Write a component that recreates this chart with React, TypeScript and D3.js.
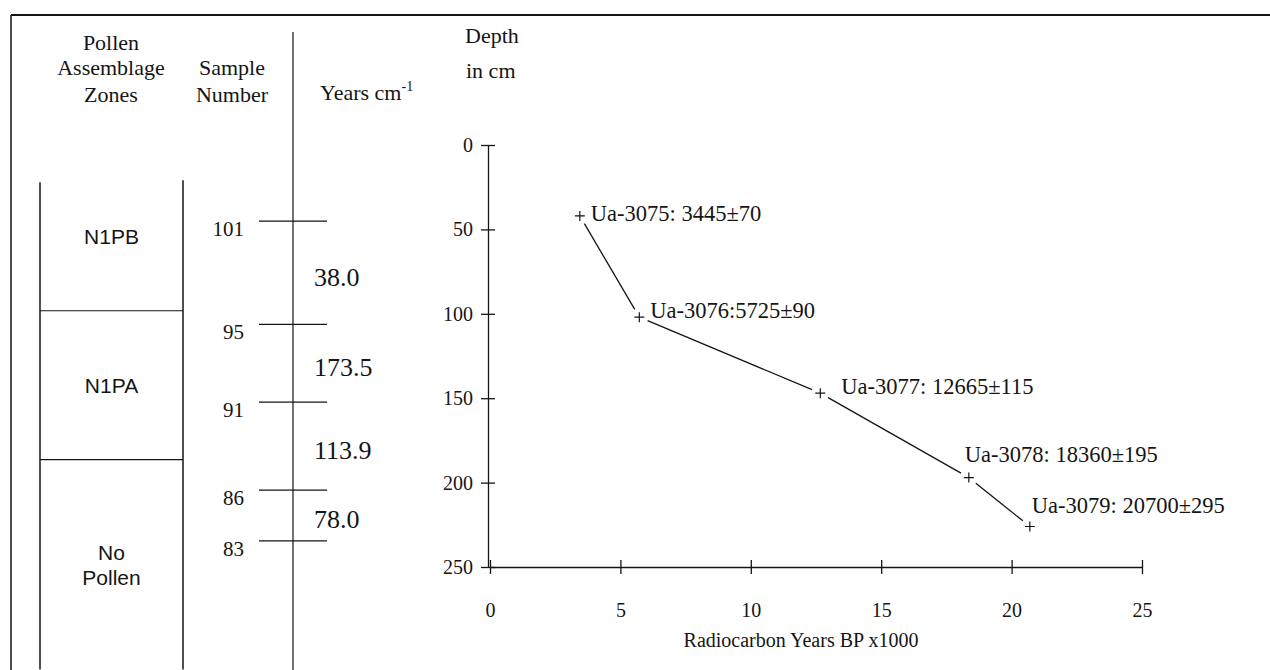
import * as d3 from "d3";
import { useEffect, useRef } from "react";

// core column (left panel)
const zoneNames = ["N1PB", "N1PA", "No Pollen"];
const zoneTops = [19, 95, 183]; // cm on the core scale
const coreBottom = 307;

const sampleNumbers = [101, 95, 91, 86, 83];
const sampleDepths = [42, 103, 149, 201, 231];
const accumulationRates = ["38.0", "173.5", "113.9", "78.0"];

// radiocarbon dates (right panel)
const dateLabels = [
  "Ua-3075: 3445\u00b170",
  "Ua-3076:5725\u00b190",
  "Ua-3077: 12665\u00b1115",
  "Ua-3078: 18360\u00b1195",
  "Ua-3079: 20700\u00b1295",
];
const dateAges = [3.445, 5.725, 12.665, 18.36, 20.7]; // ka BP
const dateDepths = [42, 102, 147, 197, 226]; // cm

const xTicks = [0, 5, 10, 15, 20, 25];
const yTicks = [0, 50, 100, 150, 200, 250];

const serif = "'Liberation Serif', 'Times New Roman', serif";
const sans = "'Liberation Sans', Arial, sans-serif";
const ink = "#151515";

// where each date label sits relative to its point
const labelOffsets = [
  [11, 5],
  [11, 1],
  [21, 1],
  [-4, -16],
  [2, -13],
];

const W = 1270;
const H = 670;

const App = () => {
  const ref = useRef<SVGSVGElement>(null);

  useEffect(() => {
    const svg = d3.select(ref.current);
    svg.selectAll("*").remove();

    // frame
    svg.append("line").attr("x1", 11).attr("x2", W).attr("y1", 15).attr("y2", 15)
      .attr("stroke", ink).attr("stroke-width", 2);
    svg.append("line").attr("x1", 11).attr("x2", 11).attr("y1", 15).attr("y2", H)
      .attr("stroke", ink).attr("stroke-width", 1.5);

    // headers
    const header = (txt: string, x: number, y: number, anchor = "middle") =>
      svg.append("text").attr("x", x).attr("y", y).attr("text-anchor", anchor)
        .attr("font-family", serif).attr("font-size", 22).attr("fill", ink).text(txt);
    header("Pollen", 111, 50);
    header("Assemblage", 111, 75);
    header("Zones", 111, 102);
    header("Sample", 232, 75);
    header("Number", 232, 102);
    const yr = header("Years cm", 320, 100, "start");
    yr.append("tspan").attr("dy", -9).attr("font-size", 14).text("-1");
    header("Depth", 465, 43, "start");
    header("in cm", 466, 78, "start");

    // core column
    const coreY = d3.scaleLinear().domain([0, 250]).range([150, 573]);
    const zoneLeft = 40;
    const zoneRight = 183;
    svg.append("line").attr("x1", zoneLeft).attr("x2", zoneLeft)
      .attr("y1", coreY(zoneTops[0])).attr("y2", coreY(coreBottom))
      .attr("stroke", ink).attr("stroke-width", 1.5);
    svg.append("line").attr("x1", zoneRight).attr("x2", zoneRight)
      .attr("y1", coreY(zoneTops[0]) - 2).attr("y2", coreY(coreBottom))
      .attr("stroke", ink).attr("stroke-width", 1.5);
    svg.selectAll("line.zone")
      .data(zoneTops.slice(1))
      .join("line")
      .attr("x1", zoneLeft).attr("x2", zoneRight)
      .attr("y1", (d) => coreY(d)).attr("y2", (d) => coreY(d))
      .attr("stroke", ink).attr("stroke-width", 1.2);

    zoneNames.forEach((name, i) => {
      const top = coreY(zoneTops[i]);
      const bottom = coreY(i + 1 < zoneTops.length ? zoneTops[i + 1] : coreBottom);
      const words = name.split(" ");
      const mid = (top + bottom) / 2 - (i === 0 ? 10 : 0);
      words.forEach((w, j) => {
        svg.append("text")
          .attr("x", (zoneLeft + zoneRight) / 2)
          .attr("y", mid + 8 + (j - (words.length - 1) / 2) * 25)
          .attr("text-anchor", "middle")
          .attr("font-family", sans).attr("font-size", 21).attr("fill", ink)
          .text(w);
      });
    });

    // divider of the sample column
    svg.append("line").attr("x1", 293).attr("x2", 293).attr("y1", 32).attr("y2", H)
      .attr("stroke", ink).attr("stroke-width", 1.2);

    svg.selectAll("line.sample")
      .data(sampleDepths)
      .join("line")
      .attr("x1", 259).attr("x2", 327)
      .attr("y1", (d) => coreY(d)).attr("y2", (d) => coreY(d))
      .attr("stroke", ink).attr("stroke-width", 1.2);
    svg.selectAll("text.sample")
      .data(sampleNumbers)
      .join("text")
      .attr("x", 244)
      .attr("y", (_, i) => coreY(sampleDepths[i]) + 15)
      .attr("text-anchor", "end")
      .attr("font-family", serif).attr("font-size", 21).attr("fill", ink)
      .text((d) => d);
    svg.selectAll("text.rate")
      .data(accumulationRates)
      .join("text")
      .attr("x", 314)
      .attr("y", (_, i) => (coreY(sampleDepths[i]) + coreY(sampleDepths[i + 1])) / 2 + 13)
      .attr("font-family", serif).attr("font-size", 26).attr("fill", ink)
      .text((d) => d);

    // age-depth plot
    const x = d3.scaleLinear().domain([0, 25]).range([490, 1142]);
    const y = d3.scaleLinear().domain([0, 250]).range([145, 567]);

    const gy = svg.append("g").attr("transform", `translate(${x(0) - 2},0)`)
      .call(d3.axisLeft(y).tickValues(yTicks).tickSize(7).tickPadding(8).tickSizeOuter(0));
    gy.selectAll(".tick line").attr("x1", 7);
    const gx = svg.append("g").attr("transform", `translate(0,${y(250)})`)
      .call(d3.axisBottom(x).tickValues(xTicks).tickSize(7).tickSizeOuter(0));
    gx.selectAll(".tick line").attr("y1", -7);
    gx.selectAll(".tick text").attr("y", 36);
    [gx, gy].forEach((g) => {
      g.attr("font-family", serif).attr("font-size", 20);
      g.selectAll("path, line").attr("stroke", ink).attr("stroke-width", 1.3);
      g.selectAll("text").attr("fill", ink);
    });
    gx.select(".tick text").text("0");

    svg.append("text")
      .attr("x", (x(0) + x(25)) / 2 - 15)
      .attr("y", 647)
      .attr("text-anchor", "middle")
      .attr("font-family", serif).attr("font-size", 20).attr("fill", ink)
      .text("Radiocarbon Years BP x1000");

    const pts = dateAges.map((a, i) => [x(a), y(dateDepths[i])]);
    // connecting line, stopping short of each marker
    const gap = 9;
    for (let i = 0; i < pts.length - 1; i++) {
      const [x1, y1] = pts[i];
      const [x2, y2] = pts[i + 1];
      const len = Math.hypot(x2 - x1, y2 - y1);
      const ux = (x2 - x1) / len;
      const uy = (y2 - y1) / len;
      svg.append("line")
        .attr("x1", x1 + ux * gap).attr("y1", y1 + uy * gap)
        .attr("x2", x2 - ux * gap).attr("y2", y2 - uy * gap)
        .attr("stroke", ink).attr("stroke-width", 1.3);
    }
    // markers
    svg.selectAll("path.mark")
      .data(pts)
      .join("path")
      .attr("d", ([px, py]) => `M${px - 5},${py}H${px + 5}M${px},${py - 5}V${py + 5}`)
      .attr("stroke", ink).attr("stroke-width", 1.2);
    svg.selectAll("text.date")
      .data(dateLabels)
      .join("text")
      .attr("x", (_, i) => pts[i][0] + labelOffsets[i][0])
      .attr("y", (_, i) => pts[i][1] + labelOffsets[i][1])
      .attr("font-family", serif).attr("font-size", 22.5).attr("fill", ink)
      .text((d) => d);
  }, []);

  return (
    <svg
      ref={ref}
      width={W}
      height={H}
      style={{ position: "absolute", left: 0, top: 0, background: "#fff" }}
    />
  );
};

export default App;
